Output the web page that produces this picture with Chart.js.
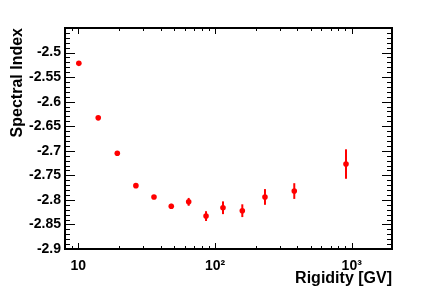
<!DOCTYPE html>
<html><head><meta charset="utf-8">
<script src="https://cdn.jsdelivr.net/npm/chart.js@4"></script>
<style>html,body{margin:0;padding:0;background:#fff}canvas{display:block}</style>
</head><body>
<canvas id="c" width="436" height="295"></canvas>
<script>
const rigidity = [10.1, 14.0, 19.3, 26.4, 35.8, 47.9, 64.2, 86, 114.4, 158.4, 232, 380, 908];
const spectralIndex = [-2.522, -2.633, -2.705, -2.771, -2.794, -2.813, -2.804, -2.833, -2.816, -2.822, -2.794, -2.782, -2.727];
const indexError = [0.002, 0.002, 0.002, 0.002, 0.002, 0.005, 0.008, 0.010, 0.013, 0.013, 0.016, 0.016, 0.030];
const xMajorTicks = [10, 100, 1000];
const xTickLabels = ['10', '10\u00B2', '10\u00B3'];
const xMinorTicks = [8, 9, 20, 30, 40, 50, 60, 70, 80, 90, 200, 300, 400, 500, 600, 700, 800, 900];
const yMajorTicks = [-2.9, -2.85, -2.8, -2.75, -2.7, -2.65, -2.6, -2.55, -2.5];
const yTickLabels = ['-2.9', '-2.85', '-2.8', '-2.75', '-2.7', '-2.65', '-2.6', '-2.55', '-2.5'];
const yMinorTicks = [-2.89, -2.88, -2.87, -2.86, -2.84, -2.83, -2.82, -2.81,
  -2.79, -2.78, -2.77, -2.76, -2.74, -2.73, -2.72, -2.71,
  -2.69, -2.68, -2.67, -2.66, -2.64, -2.63, -2.62, -2.61,
  -2.59, -2.58, -2.57, -2.56, -2.54, -2.53, -2.52, -2.51,
  -2.49, -2.48, -2.47, -2.46, -2.45];

const FONT = '"Liberation Sans", Arial, Helvetica, sans-serif';

const frameTicks = {
  id: 'frameTicks',
  beforeDatasetsDraw(chart) {
    const {ctx, scales: {x, y}} = chart;
    ctx.save();
    ctx.strokeStyle = '#ff0000';
    ctx.lineWidth = 2;
    rigidity.forEach((r, i) => {
      const px = x.getPixelForValue(r);
      const y1 = y.getPixelForValue(spectralIndex[i] - indexError[i]);
      const y2 = y.getPixelForValue(spectralIndex[i] + indexError[i]);
      ctx.beginPath(); ctx.moveTo(px, y1); ctx.lineTo(px, y2); ctx.stroke();
    });
    ctx.restore();
  },
  afterDraw(chart) {
    const {ctx, chartArea: a, scales: {x, y}} = chart;
    ctx.save();
    ctx.strokeStyle = '#000';
    ctx.lineWidth = 1;
    const vt = (v, len) => {
      const px = Math.round(x.getPixelForValue(v)) + 0.5;
      ctx.beginPath();
      ctx.moveTo(px, a.bottom); ctx.lineTo(px, a.bottom - len);
      ctx.moveTo(px, a.top); ctx.lineTo(px, a.top + len);
      ctx.stroke();
    };
    const ht = (v, len) => {
      const py = Math.round(y.getPixelForValue(v)) + 0.5;
      ctx.beginPath();
      ctx.moveTo(a.left, py); ctx.lineTo(a.left + len, py);
      ctx.moveTo(a.right, py); ctx.lineTo(a.right - len, py);
      ctx.stroke();
    };
    xMajorTicks.forEach(v => vt(v, 6));
    xMinorTicks.forEach(v => vt(v, 3));
    yMajorTicks.forEach(v => ht(v, 10));
    yMinorTicks.forEach(v => ht(v, 5));
    ctx.lineWidth = 2;
    ctx.strokeRect(a.left, a.top, a.right - a.left, a.bottom - a.top);
    ctx.restore();
  }
};

new Chart(document.getElementById('c'), {
  type: 'scatter',
  data: {
    datasets: [{
      data: rigidity.map((r, i) => ({x: r, y: spectralIndex[i]})),
      pointRadius: 2.8,
      pointHoverRadius: 2.8,
      backgroundColor: '#ff0000',
      borderWidth: 0,
      showLine: false
    }]
  },
  options: {
    responsive: false,
    animation: false,
    devicePixelRatio: 1,
    layout: {padding: {top: 28, right: 44, left: 0, bottom: 0}},
    plugins: {legend: {display: false}, tooltip: {enabled: false}},
    scales: {
      x: {
        type: 'logarithmic', min: 8, max: 1970, position: 'bottom',
        afterBuildTicks: s => { s.ticks = xMajorTicks.map(v => ({value: v})); },
        afterFit: s => { s.height = 46; },
        grid: {display: false, drawTicks: false},
        border: {display: false},
        ticks: {
          autoSkip: false, maxRotation: 0, minRotation: 0, padding: 9, color: '#000',
          font: {family: FONT, weight: 'bold', size: 14},
          callback: v => { const i = xMajorTicks.indexOf(v); return i >= 0 ? xTickLabels[i] : ''; }
        },
        title: {display: true, text: 'Rigidity [GV]', align: 'end', color: '#000',
          font: {family: FONT, weight: 'bold', size: 16}, padding: {top: 0, bottom: 7}}
      },
      y: {
        min: -2.9, max: -2.45,
        afterBuildTicks: s => { s.ticks = yMajorTicks.map(v => ({value: v})); },
        afterFit: s => { s.width = 65; },
        grid: {display: false, drawTicks: false},
        border: {display: false},
        ticks: {
          autoSkip: false, padding: 4, color: '#000',
          font: {family: FONT, weight: 'bold', size: 14},
          callback: v => { const i = yMajorTicks.findIndex(t => Math.abs(t - v) < 1e-6); return i >= 0 ? yTickLabels[i] : ''; }
        },
        title: {display: true, text: 'Spectral Index', align: 'end', color: '#000',
          font: {family: FONT, weight: 'bold', size: 16}, padding: {top: 8, bottom: 0}}
      }
    }
  },
  plugins: [frameTicks]
});
</script>
</body></html>
